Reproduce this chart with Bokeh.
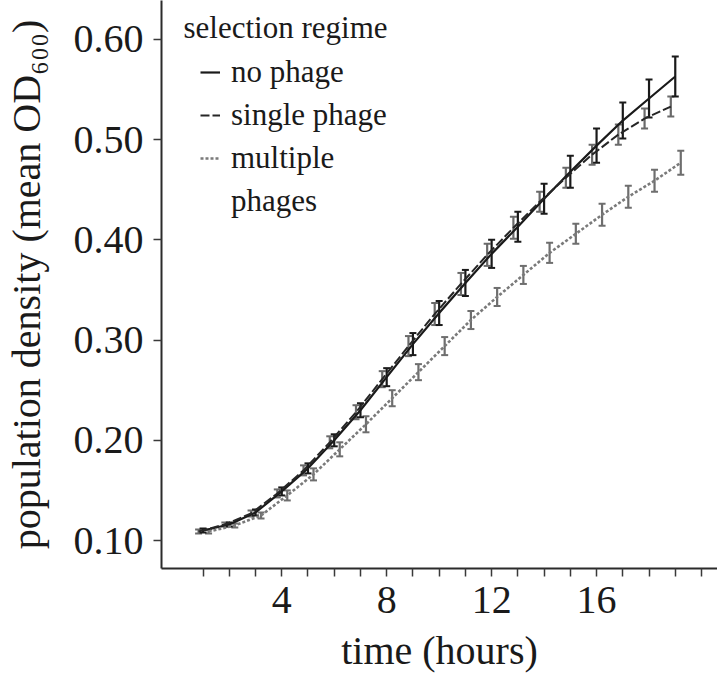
import numpy as np
from bokeh.plotting import figure
from bokeh.models import (FixedTicker, Range1d, Whisker, ColumnDataSource, Legend,
                          LegendItem, Label, TeeHead)
from bokeh.embed import file_html
from bokeh.resources import INLINE

# ---------------- data ----------------
time_h = list(range(1, 20))
no_phage = [0.110, 0.116, 0.128, 0.149, 0.172, 0.200, 0.230, 0.263, 0.296, 0.327,
            0.357, 0.386, 0.413, 0.441, 0.468, 0.494, 0.519, 0.541, 0.563]
no_phage_err = [0.002, 0.002, 0.003, 0.004, 0.005, 0.006, 0.007, 0.009, 0.011, 0.012,
                0.013, 0.014, 0.015, 0.015, 0.016, 0.017, 0.018, 0.019, 0.020]
single_phage = [0.109, 0.116, 0.127, 0.147, 0.170, 0.198, 0.228, 0.261, 0.294, 0.326,
                0.356, 0.385, 0.412, 0.438, 0.462, 0.485, 0.505, 0.521, 0.533]
single_err = [0.002, 0.002, 0.003, 0.004, 0.005, 0.006, 0.007, 0.008, 0.010, 0.011,
              0.011, 0.011, 0.011, 0.010, 0.010, 0.010, 0.010, 0.010, 0.010]
multi_phage = [0.109, 0.115, 0.125, 0.145, 0.166, 0.191, 0.216, 0.242, 0.268, 0.294,
               0.320, 0.343, 0.365, 0.387, 0.406, 0.425, 0.443, 0.459, 0.477]
multi_err = [0.002, 0.002, 0.003, 0.005, 0.006, 0.007, 0.008, 0.008, 0.008, 0.009,
             0.009, 0.009, 0.009, 0.010, 0.010, 0.011, 0.011, 0.011, 0.012]

x_ticks = list(range(1, 21))
x_tick_labels = {4: "4", 8: "8", 12: "12", 16: "16"}
y_ticks = [0.1, 0.2, 0.3, 0.4, 0.5, 0.6]
y_tick_labels = ["0.10", "0.20", "0.30", "0.40", "0.50", "0.60"]

series_names = ["no phage", "single phage", "multiple"]
series_name_cont = "phages"
legend_title = "selection regime"
x_title = "time (hours)"
y_title = "population density (mean OD\u2086\u2080\u2080)"

# dodge offsets (hours) as in a dodged ggplot
dodge = [0.0, -0.17, 0.21]

FONT = "Liberation Serif"
TXT = "#1a1a1a"

p = figure(width=717, height=675, output_backend="svg", toolbar_location=None,
           x_range=Range1d(-0.584, 20.61), y_range=Range1d(0.0721, 0.6388),
           min_border_left=159, min_border_right=0, min_border_top=0, min_border_bottom=106)
p.outline_line_color = None
p.xgrid.visible = False
p.ygrid.visible = False
p.background_fill_color = "white"

def style_axis(ax):
    ax.axis_line_color = "#2b2b2b"
    ax.axis_line_width = 2
    ax.major_tick_line_color = "#3a3a3a"
    ax.major_tick_line_width = 1.5
    ax.major_tick_out = 8
    ax.major_tick_in = 0
    ax.minor_tick_line_color = None
    ax.major_label_text_font = FONT
    ax.major_label_text_font_size = "40px"
    ax.major_label_text_color = TXT
    ax.axis_label_text_font = FONT
    ax.axis_label_text_font_size = "40px"
    ax.axis_label_text_font_style = "normal"
    ax.axis_label_text_color = TXT

style_axis(p.xaxis[0])
style_axis(p.yaxis[0])
p.xaxis[0].ticker = FixedTicker(ticks=x_ticks)
p.xaxis[0].major_label_overrides = {t: x_tick_labels.get(t, "") for t in x_ticks}
p.xaxis[0].major_label_standoff = 10
p.xaxis[0].axis_label = x_title
p.xaxis[0].axis_label_standoff = 12
p.yaxis[0].ticker = FixedTicker(ticks=y_ticks)
p.yaxis[0].major_label_overrides = {t: l for t, l in zip(y_ticks, y_tick_labels)}
p.yaxis[0].major_label_standoff = 10
p.yaxis[0].axis_label = y_title
p.yaxis[0].axis_label_standoff = 22

line_colors = ["#1a1a1a", "#262626", "#7a7a7a"]
bar_colors = ["#1a1a1a", "#6a6a6a", "#6e6e6e"]
dashes = ["solid", "9 3", "3 2"]
widths = [2.2, 2.0, 2.6]
means = [no_phage, single_phage, multi_phage]
errs = [no_phage_err, single_err, multi_err]

renderers = []
whiskers = []
for i in range(3):
    xs = [t + dodge[i] for t in time_h]
    m = np.array(means[i])
    e = np.array(errs[i])
    src = ColumnDataSource(dict(x=xs, y=m, lo=m - e, hi=m + e))
    w = Whisker(source=src, base="x", upper="hi", lower="lo", dimension="height",
                line_color=bar_colors[i], line_width=2.2,
                upper_head=TeeHead(size=7, line_color=bar_colors[i], line_width=2),
                lower_head=TeeHead(size=7, line_color=bar_colors[i], line_width=2))
    whiskers.append(w)
    r = p.line("x", "y", source=src, line_color=line_colors[i], line_width=widths[i],
               line_dash=dashes[i])
    renderers.append(r)

for w in [whiskers[2], whiskers[1], whiskers[0]]:
    p.add_layout(w)

# empty, invisible renderer used only to carry the second line of the last label
r_blank = p.line(x=[], y=[], line_alpha=0)

items = [LegendItem(label=series_names[i], renderers=[renderers[i]]) for i in range(3)]
items.append(LegendItem(label=series_name_cont, renderers=[r_blank]))

legend = Legend(items=items,
                location="top_left", margin=0, padding=39, spacing=0,
                title=" ", title_text_font_size="8px", title_standoff=2,
                label_text_font=FONT, label_text_font_size="31px", label_text_color=TXT,
                glyph_width=20, glyph_height=20, label_standoff=11, label_height=43,
                background_fill_alpha=0, border_line_alpha=0)
p.add_layout(legend)

p.add_layout(Label(x=22, y=541, x_units="screen", y_units="screen", text=legend_title,
                   text_font=FONT, text_font_size="31px", text_color=TXT,
                   text_baseline="middle", text_align="left"))

open("out.html", "w").write(file_html(p, INLINE))
